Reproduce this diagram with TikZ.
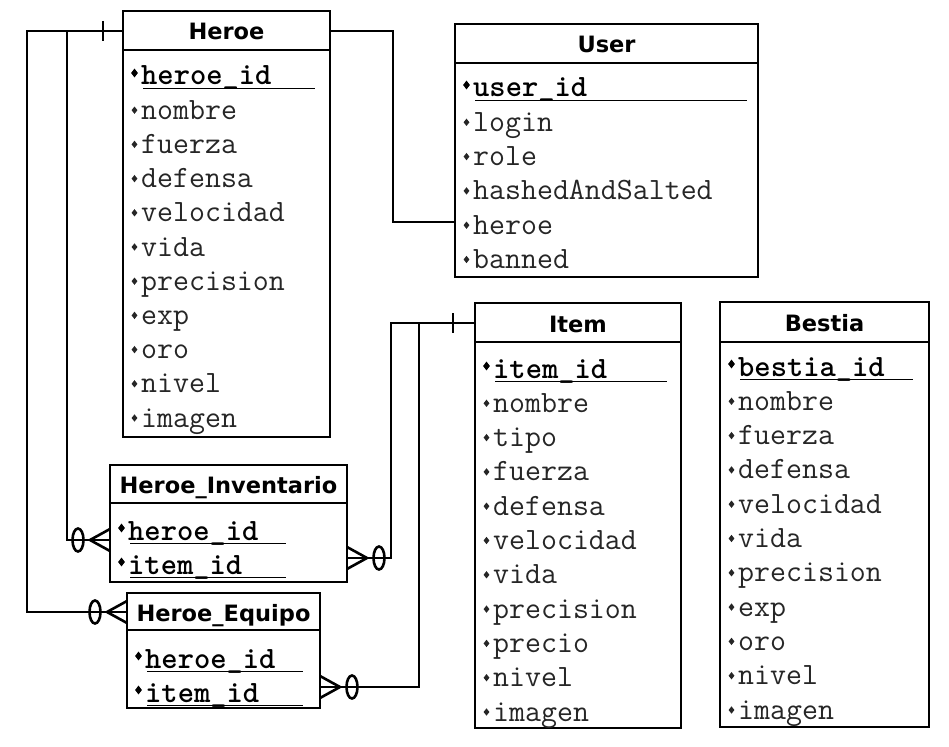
\documentclass[tikz,border=0pt]{standalone}
\usepackage{fontspec}
\usetikzlibrary{shapes.geometric}
\newfontfamily\hdrf{DejaVu Sans}
\tikzset{
 tbl/.style={draw, line width=2.8pt, rectangle, inner sep=0pt, outer sep=0pt},
 sepline/.style={line width=2.8pt},
 hdr/.style={font=\hdrf\bfseries\fontsize{22.5}{22.5}\selectfont, inner sep=0pt, anchor=base},
 attr/.style={font=\ttfamily\fontsize{31}{31}\selectfont, anchor=base west, inner sep=0pt, text=black!85},
 keyattr/.style={attr, font=\ttfamily\bfseries\fontsize{31}{31}\selectfont, text=black},
 bul/.style={diamond, fill=black!85, inner sep=0pt, minimum width=6pt, minimum height=7.5pt},
 kbul/.style={bul, fill=black, minimum width=7pt, minimum height=9pt},
 uline/.style={line width=1.5pt},
 conn/.style={line width=2.8pt},
 crow/.style={line width=2.6pt},
}
% table: name, x1, y1, x2, ysep, y2, title
\newcommand\ertable[7]{%
 \node[tbl, minimum width={#4-#2}, minimum height={#6-#3}, anchor=north west] (#1) at (#2,#3) {};
 \draw[sepline] (#2,#5) -- (#4,#5);
 \node[hdr] (#1-title) at ({(#2+#4)/2},{(#3+#5)/2+9.5}) {#7};
}
% row: name, left, baseline, text
\newcommand\attrrow[4]{%
 \node[bul] (#1-b) at (#2+11.5,#3-9) {};
 \node[attr] (#1) at (#2+18,#3) {#4};
}
% key row: name, left, baseline, text, underline end
\newcommand\keyrow[5]{%
 \node[kbul] (#1-b) at (#2+11.5,#3-12) {};
 \node[keyattr] (#1) at (#2+18,#3) {#4};
 \draw[uline] (#2+20,#3+3.5) -- (#5,#3+3.5);
}
% crow's foot + zero: entity edge x, y, direction (-1 = foot points left from edge)
\newcommand\crowzero[3]{%
 \draw[crow] (#1,#2-11) -- (#1+20*#3,#2) -- (#1,#2+11);
 \draw[crow] (#1+32*#3,#2) ellipse [x radius=5.5pt, y radius=11.5pt];
}
\begin{document}
\begin{tikzpicture}[x=1pt,y=-1pt]
\useasboundingbox[fill=white] (0,0) rectangle (949,746);

% ---- Heroe
\ertable{heroe}{123}{11}{330}{50}{437}{Heroe}
\keyrow{heroe-id}{123}{85}{heroe\_id}{315}
\foreach \t [count=\i] in {nombre,fuerza,defensa,velocidad,vida,precision,exp,oro,nivel,imagen}
 {\attrrow{heroe-\t}{123}{85+34.2*\i}{\t}}

% ---- User
\ertable{user}{455}{24}{758}{63}{277}{User}
\keyrow{user-id}{455}{97}{user\_id}{747}
\foreach \t [count=\i] in {login,role,hashedAndSalted,heroe,banned}
 {\attrrow{user-\t}{455}{97+34.3*\i}{\t}}

% ---- Item
\ertable{item}{475}{303}{681}{342}{728}{Item}
\keyrow{item-id}{475}{378}{item\_id}{667}
\foreach \t [count=\i] in {nombre,tipo,fuerza,defensa,velocidad,vida,precision,precio,nivel,imagen}
 {\attrrow{item-\t}{475}{378+34.3*\i}{\t}}

% ---- Bestia
\ertable{bestia}{720}{302}{929}{342}{727}{Bestia}
\keyrow{bestia-id}{720}{376}{bestia\_id}{913}
\foreach \t [count=\i] in {nombre,fuerza,defensa,velocidad,vida,precision,exp,oro,nivel,imagen}
 {\attrrow{bestia-\t}{720}{376+34.3*\i}{\t}}

% ---- Heroe_Inventario
\ertable{hinv}{110}{465}{347}{503}{582}{Heroe\_Inventario}
\keyrow{hinv-heroe}{110}{540}{heroe\_id}{286}
\keyrow{hinv-item}{110}{574}{item\_id}{286}

% ---- Heroe_Equipo
\ertable{heq}{127}{593}{320}{630}{708}{Heroe\_Equipo}
\keyrow{heq-heroe}{127}{668}{heroe\_id}{303}
\keyrow{heq-item}{127}{702}{item\_id}{303}

% ---- connectors
\coordinate (hu1) at (393,31);
\coordinate (hu2) at (393,222);
\draw[conn] ([yshift=-20pt]heroe.north east) -- (hu1) -- (hu2) -- (user.west |- hu2);

\coordinate (hi1) at (67,31);
\coordinate (hi2) at (67,540);
\coordinate (he1) at (27,31);
\coordinate (he2) at (27,612);
\draw[conn] ([yshift=-20pt]heroe.north west) -- (he1) -- (he2) -- (heq.west |- he2);
\draw[conn] (hi1) -- (hi2) -- (hinv.west |- hi2);
\draw[crow] (103,21) -- (103,41);
\crowzero{110}{540}{-1}
\crowzero{127}{612}{-1}

\coordinate (ii1) at (391,323);
\coordinate (ii2) at (391,558);
\coordinate (ie1) at (419,323);
\coordinate (ie2) at (419,687);
\draw[conn] ([yshift=-20pt]item.north west) -- (ii1) -- (ii2) -- (hinv.east |- ii2);
\draw[conn] (ie1) -- (ie2) -- (heq.east |- ie2);
\draw[crow] (453,313) -- (453,333);
\crowzero{347}{558}{1}
\crowzero{320}{687}{1}
\end{tikzpicture}
\end{document}
